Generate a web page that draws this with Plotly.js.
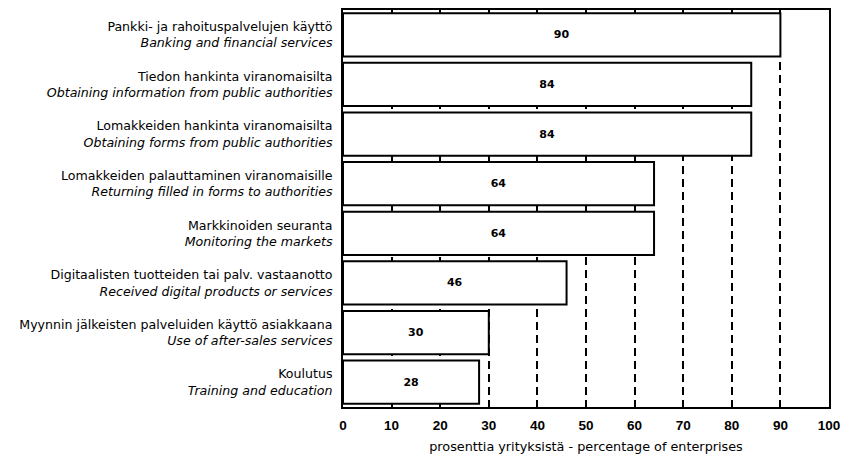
<!DOCTYPE html>
<html>
<head>
<meta charset="utf-8">
<script src="https://cdn.plot.ly/plotly-3.0.1.min.js"></script>
<style>
  html, body { margin: 0; padding: 0; background: #fff; }
  #chart { width: 841px; height: 455px; }
</style>
</head>
<body>
<div id="chart"></div>
<script>
// categories, finnish + english
var labelsFi = [
    'Pankki- ja rahoituspalvelujen käyttö',
    'Tiedon hankinta viranomaisilta',
    'Lomakkeiden hankinta viranomaisilta',
    'Lomakkeiden palauttaminen viranomaisille',
    'Markkinoiden seuranta',
    'Digitaalisten tuotteiden tai palv. vastaanotto',
    'Myynnin jälkeisten palveluiden käyttö asiakkaana',
    'Koulutus'
];
var labelsEn = [
    'Banking and financial services',
    'Obtaining information from public authorities',
    'Obtaining forms from public authorities',
    'Returning filled in forms to authorities',
    'Monitoring the markets',
    'Received digital products or services',
    'Use of after-sales services',
    'Training and education'
];
var values = [90, 84, 84, 64, 64, 46, 30, 28];
var xTicks = [0, 10, 20, 30, 40, 50, 60, 70, 80, 90, 100];

var tickText = [];
for (var i = 0; i < labelsFi.length; i++) {
    tickText.push(labelsFi[i] + '<br><i>' + labelsEn[i] + '</i>');
}

var trace = {
    type: 'bar',
    orientation: 'h',
    x: values,
    y: labelsFi,
    text: values.map(String),
    textposition: 'inside',
    insidetextanchor: 'middle',
    textangle: 0,
    constraintext: 'none',
    textfont: { family: 'DejaVu Sans, sans-serif', size: 11, color: '#000', weight: 'bold' },
    marker: { color: '#fff', line: { color: '#000', width: 2 } },
    hoverinfo: 'none',
    showlegend: false
};

var layout = {
    width: 841,
    height: 455,
    margin: { l: 343, r: 12, t: 10, b: 48 },
    paper_bgcolor: '#fff',
    plot_bgcolor: '#fff',
    font: { family: 'DejaVu Sans, sans-serif', size: 12, color: '#000' },
    bargap: 0.13,
    xaxis: {
        range: [0, 100],
        tickvals: xTicks,
        ticktext: xTicks.map(String),
        tickfont: { family: 'Liberation Sans, Arial, sans-serif', size: 13.5, weight: 'bold' },
        showgrid: true,
        gridcolor: '#000',
        gridwidth: 2,
        griddash: '8px,5px',
        zeroline: false,
        showline: true,
        linecolor: '#000',
        linewidth: 2,
        mirror: true,
        ticks: '',
        ticklabelstandoff: 5,
        title: { text: 'prosenttia yrityksistä - percentage of enterprises', font: { size: 12.8 }, standoff: 10 }
    },
    yaxis: {
        type: 'category',
        autorange: 'reversed',
        tickvals: labelsFi,
        ticktext: tickText,
        tickfont: { size: 12.6 },
        showgrid: false,
        zeroline: false,
        showline: true,
        linecolor: '#000',
        linewidth: 2,
        mirror: true,
        ticks: '',
        ticklabelstandoff: 6
    }
};

Plotly.newPlot('chart', [trace], layout, { displayModeBar: false, staticPlot: true });
</script>
</body>
</html>
